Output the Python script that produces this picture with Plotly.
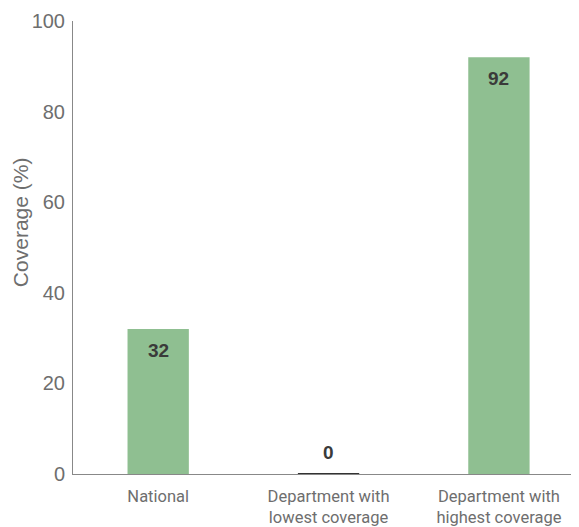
import plotly.graph_objects as go

categories = ["National", "Department with<br>lowest coverage", "Department with<br>highest coverage"]
values = [32, 0, 92]
y_ticks = [0, 20, 40, 60, 80, 100]
y_title = "Coverage (%)"

bar_color = "#8fbf91"
line_colors = ["rgba(0,0,0,0)" if v != 0 else "#333333" for v in values]
line_widths = [0 if v != 0 else 2 for v in values]

fig = go.Figure()
fig.add_trace(go.Bar(
    x=categories, y=values,
    marker=dict(color=bar_color, line=dict(color=line_colors, width=line_widths)),
    width=0.36,
    hoverinfo="skip",
))

for c, v in zip(categories, values):
    fig.add_annotation(
        x=c, y=v, xref="x", yref="y",
        text=f"<b>{v}</b>", showarrow=False,
        font=dict(family="Liberation Sans, Arial, sans-serif", size=19, color="#3a3a3a"),
        yshift=(-21 if v > 0 else 22),
    )

fig.add_annotation(
    x=0, y=0.556, xref="paper", yref="paper",
    text=y_title, textangle=-90, showarrow=False,
    xanchor="center", yanchor="middle", xshift=-53,
    font=dict(family="Liberation Sans, Arial, sans-serif", size=21, color="#6e6e6e"),
)

fig.update_layout(
    width=571, height=519,
    margin=dict(l=65, r=0, t=13, b=53),
    paper_bgcolor="white", plot_bgcolor="white",
    showlegend=False,
)
fig.update_xaxes(
    range=[-0.5, 2.47],
    showline=True, linecolor="#888888", linewidth=1,
    showgrid=False, ticks="",
    ticklabelstandoff=7,
    tickfont=dict(family="Roboto, sans-serif", size=16.5, color="#6e6e6e"),
    automargin=False,
    fixedrange=True,
)
fig.update_yaxes(
    range=[0, 100], tickvals=y_ticks,
    showline=True, linecolor="#888888", linewidth=1,
    showgrid=False, zeroline=False, ticks="",
    ticklabelstandoff=3,
    tickfont=dict(family="Liberation Sans, Arial, sans-serif", size=20, color="#6e6e6e"),
    automargin=False,
    fixedrange=True,
)

fig.write_html("out.html")
